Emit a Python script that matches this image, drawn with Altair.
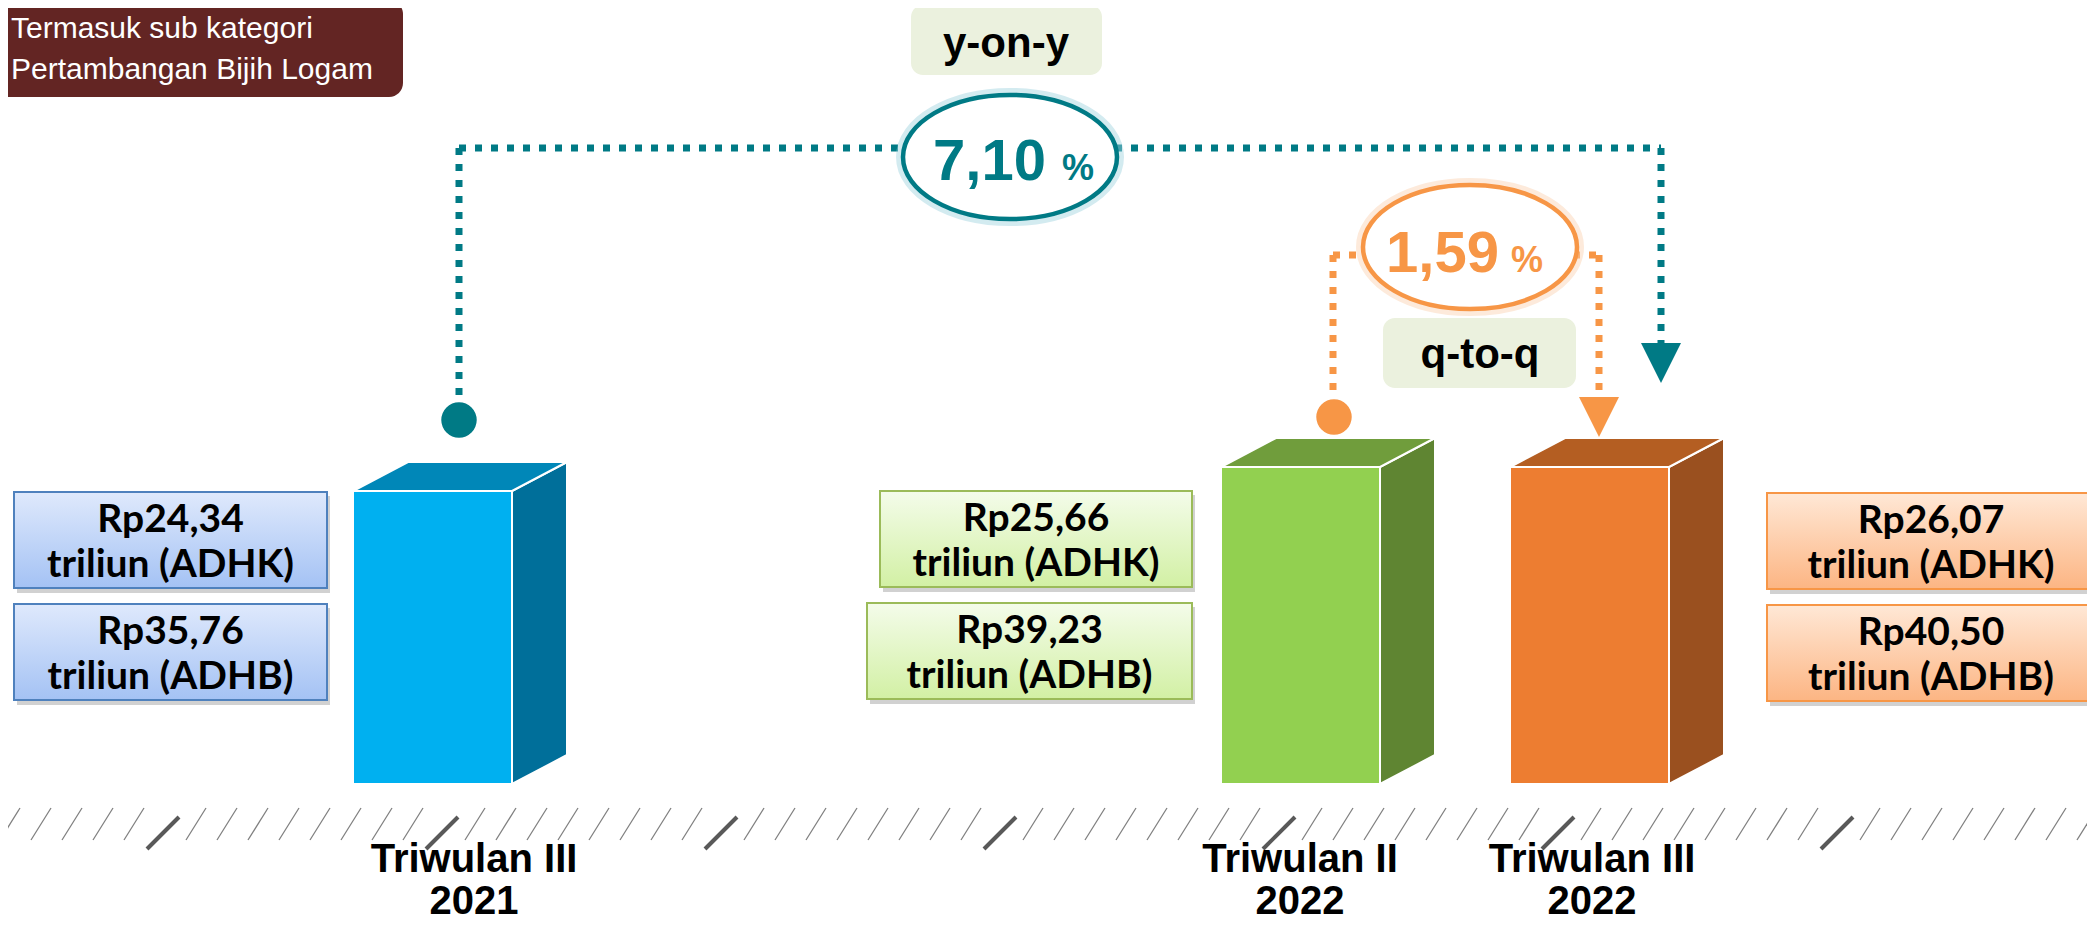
import altair as alt
import pandas as pd

# ---------------- data ----------------
period_names = ["Triwulan III", "Triwulan II", "Triwulan III"]
period_years = ["2021", "2022", "2022"]
adhk_values = [24.34, 25.66, 26.07]
adhb_values = [35.76, 39.23, 40.50]
yoy_growth = 7.10
qtq_growth = 1.59
note_lines = ["Termasuk sub kategori", "Pertambangan Bijih Logam"]
yoy_label = "y-on-y"
qtq_label = "q-to-q"

# ---------------- layout (page pixels) ----------------
W, H, M = 2095, 932, 8
bar_left = [353, 1221, 1510]
bar_w = 159
bar_top = [491, 467, 467]
bar_bottom = 784
dep_x, dep_y = 55, 29
front_col = ["#00B0F0", "#92D050", "#ED7D31"]
top_col = ["#0087B8", "#709D3C", "#B45E22"]
side_col = ["#006F9A", "#5F8532", "#9A501F"]

box_left = [[14, 14], [880, 867], [1767, 1767]]
box_right = [327, 1192, 2095]
box_top = [[492, 604], [491, 603], [493, 605]]
box_h = 96
grad_top = ["#DFE9FC", "#F4FCEA", "#FFE8D6"]
grad_bot = ["#A4C2F4", "#D2F0A4", "#FCB583"]
box_line = ["#4F81BD", "#9BBB59", "#F79646"]
label_x = [474, 1300, 1592]

TEAL = "#007A85"
ORANGE = "#F79646"
ARIAL = "Liberation Sans, Arial, sans-serif"
BOXF = "Lato, Open Sans, sans-serif"

XS = alt.Scale(domain=[M, W - M], nice=False, zero=False)
YS = alt.Scale(domain=[M, H - M], nice=False, zero=False, reverse=True)


def X(f="x"):
    return alt.X(f"{f}:Q", scale=XS, axis=None)


def Y(f="y"):
    return alt.Y(f"{f}:Q", scale=YS, axis=None)


def fmt(v):
    return f"{v:.2f}".replace(".", ",")


layers = []

# ---------------- ground hatch ----------------
big_x = [31 * (5 + 9 * k) - 8 for k in range(7)]
small_x = [x for x in range(0, W, 31) if all(abs(x - b) > 15 for b in big_x)]
hs = pd.DataFrame({"x": small_x, "y": 840, "x2": [x + 20 for x in small_x], "y2": 808})
hb = pd.DataFrame({"x": big_x, "y": 849, "x2": [x + 32 for x in big_x], "y2": 817})
layers.append(alt.Chart(hs).mark_rule(color="#7F7F7F", strokeWidth=1.3).encode(
    x=X(), y=Y(), x2="x2:Q", y2="y2:Q"))
layers.append(alt.Chart(hb).mark_rule(color="#595959", strokeWidth=4).encode(
    x=X(), y=Y(), x2="x2:Q", y2="y2:Q"))

# ---------------- 3D bars ----------------
side_rows, top_rows, front_rows = [], [], []
for i in range(3):
    l, r, t = bar_left[i], bar_left[i] + bar_w, bar_top[i]
    side_rows += [
        {"bar": i, "x": r, "y": t, "y2": bar_bottom, "c": side_col[i]},
        {"bar": i, "x": r + dep_x, "y": t - dep_y, "y2": bar_bottom - dep_y, "c": side_col[i]},
    ]
    top_rows += [
        {"bar": i, "y": t, "x": l, "x2": r, "c": top_col[i]},
        {"bar": i, "y": t - dep_y, "x": l + dep_x, "x2": r + dep_x, "c": top_col[i]},
    ]
    front_rows.append({"x": l, "x2": r, "y": t, "y2": bar_bottom, "c": front_col[i]})

layers.append(alt.Chart(pd.DataFrame(side_rows)).mark_area(
    orient="vertical", stroke="white", strokeWidth=2, opacity=1).encode(
    x=X(), y=Y(), y2="y2:Q", color=alt.Color("c:N", scale=None), detail="bar:N"))
layers.append(alt.Chart(pd.DataFrame(top_rows)).mark_area(
    orient="horizontal", stroke="white", strokeWidth=2, opacity=1).encode(
    y=Y(), x=X(), x2="x2:Q", color=alt.Color("c:N", scale=None), detail="bar:N"))
layers.append(alt.Chart(pd.DataFrame(front_rows)).mark_rect(
    stroke="white", strokeWidth=2).encode(
    x=X(), x2="x2:Q", y=Y(), y2="y2:Q", color=alt.Color("c:N", scale=None)))

# ---------------- value boxes ----------------
for i in range(3):
    rows, shadow, txt = [], [], []
    vals = [(adhk_values[i], "triliun (ADHK)"), (adhb_values[i], "triliun (ADHB)")]
    for j in range(2):
        l, r, t = box_left[i][j], box_right[i], box_top[i][j]
        rows.append({"x": l, "x2": r, "y": t, "y2": t + box_h})
        shadow.append({"x": l + 3, "x2": r + 3, "y": t + 4, "y2": t + box_h + 5})
        cx = (l + r) / 2
        txt.append({"x": cx, "y": t + 40, "t": "Rp" + fmt(vals[j][0])})
        txt.append({"x": cx, "y": t + 85, "t": vals[j][1]})
    grad = alt.LinearGradient(
        gradient="linear",
        stops=[alt.GradientStop(color=grad_top[i], offset=0),
               alt.GradientStop(color=grad_bot[i], offset=1)],
        x1=0, x2=0, y1=0, y2=1)
    layers.append(alt.Chart(pd.DataFrame(shadow)).mark_rect(
        fill="#000000", opacity=0.18).encode(x=X(), x2="x2:Q", y=Y(), y2="y2:Q"))
    layers.append(alt.Chart(pd.DataFrame(rows)).mark_rect(
        fill=grad, stroke=box_line[i], strokeWidth=2).encode(
        x=X(), x2="x2:Q", y=Y(), y2="y2:Q"))
    layers.append(alt.Chart(pd.DataFrame(txt)).mark_text(
        font=BOXF, fontSize=39, fontWeight="bold", color="#000000",
        align="center", baseline="alphabetic").encode(x=X(), y=Y(), text="t:N"))

# ---------------- dotted connectors ----------------
dots = pd.DataFrame([
    {"x": 459, "y": 148, "x2": 459, "y2": 402, "c": TEAL},
    {"x": 459, "y": 148, "x2": 1661, "y2": 148, "c": TEAL},
    {"x": 1661, "y": 148, "x2": 1661, "y2": 345, "c": TEAL},
    {"x": 1333, "y": 255, "x2": 1333, "y2": 399, "c": ORANGE},
    {"x": 1333, "y": 255, "x2": 1599, "y2": 255, "c": ORANGE},
    {"x": 1599, "y": 255, "x2": 1599, "y2": 399, "c": ORANGE},
])
layers.append(alt.Chart(dots).mark_rule(
    strokeWidth=7, strokeDash=[7, 9], strokeCap="butt").encode(
    x=X(), y=Y(), x2="x2:Q", y2="y2:Q", color=alt.Color("c:N", scale=None)))

circles = pd.DataFrame([{"x": 459, "y": 420, "c": TEAL}, {"x": 1334, "y": 417, "c": ORANGE}])
layers.append(alt.Chart(circles).mark_point(
    shape="circle", filled=True, size=1257, opacity=1).encode(
    x=X(), y=Y(), color=alt.Color("c:N", scale=None)))
tri = pd.DataFrame([{"x": 1661, "y": 363, "c": TEAL}, {"x": 1599, "y": 417, "c": ORANGE}])
layers.append(alt.Chart(tri).mark_point(
    shape="M-1,-1L1,-1L0,1Z", filled=True, size=1600, opacity=1).encode(
    x=X(), y=Y(), color=alt.Color("c:N", scale=None)))

# ---------------- ellipses ----------------
k, r = 0.5523, 0.58
ell = (f"M1,0C1,{k*r:.4f} {k},{r} 0,{r}C{-k},{r} -1,{k*r:.4f} -1,0"
       f"C-1,{-k*r:.4f} {-k},{-r} 0,{-r}C{k},{-r} 1,{-k*r:.4f} 1,0Z")
ells = [(1010, 157, TEAL, "#9FD3E0"), (1470, 247, ORANGE, "#FBD2B0")]
for (ex_, ey_, col, glow) in ells:
    d = pd.DataFrame([{"x": ex_, "y": ey_}])
    layers.append(alt.Chart(d).mark_point(
        shape=ell, filled=False, stroke=glow, strokeWidth=14, size=214 ** 2,
        opacity=0.45).encode(x=X(), y=Y()))
    layers.append(alt.Chart(d).mark_point(
        shape=ell, filled=True, fill="white", stroke=col, strokeWidth=4.5,
        size=214 ** 2, opacity=1).encode(x=X(), y=Y()))

pct = pd.DataFrame([
    {"x": 1046, "y": 180, "t": fmt(yoy_growth), "c": TEAL},
    {"x": 1499, "y": 272, "t": fmt(qtq_growth), "c": ORANGE},
])
layers.append(alt.Chart(pct).mark_text(
    font=ARIAL, fontSize=58, fontWeight="bold", align="right", baseline="alphabetic").encode(
    x=X(), y=Y(), text="t:N", color=alt.Color("c:N", scale=None)))
pcs = pd.DataFrame([
    {"x": 1062, "y": 180, "t": "%", "c": TEAL},
    {"x": 1511, "y": 272, "t": "%", "c": ORANGE},
])
layers.append(alt.Chart(pcs).mark_text(
    font=ARIAL, fontSize=36, fontWeight="bold", align="left", baseline="alphabetic").encode(
    x=X(), y=Y(), text="t:N", color=alt.Color("c:N", scale=None)))

# ---------------- y-on-y / q-to-q tags ----------------
tags = pd.DataFrame([
    {"x": 911, "x2": 1102, "y": 5, "y2": 75},
    {"x": 1383, "x2": 1576, "y": 318, "y2": 388},
])
layers.append(alt.Chart(tags).mark_rect(fill="#EBF1DE", cornerRadius=12).encode(
    x=X(), x2="x2:Q", y=Y(), y2="y2:Q"))
tag_txt = pd.DataFrame([
    {"x": 1006, "y": 57, "t": yoy_label},
    {"x": 1480, "y": 368, "t": qtq_label},
])
layers.append(alt.Chart(tag_txt).mark_text(
    font=ARIAL, fontSize=42, fontWeight="bold", color="#000000",
    align="center", baseline="alphabetic").encode(x=X(), y=Y(), text="t:N"))

# ---------------- note box ----------------
note = pd.DataFrame([{"x": 0, "x2": 403, "y": 0, "y2": 97}])
layers.append(alt.Chart(note).mark_rect(
    fill="#632523", cornerRadiusTopRight=14, cornerRadiusBottomRight=14).encode(
    x=X(), x2="x2:Q", y=Y(), y2="y2:Q"))
note_txt = pd.DataFrame([
    {"x": 11, "y": 38, "t": note_lines[0]},
    {"x": 11, "y": 79, "t": note_lines[1]},
])
layers.append(alt.Chart(note_txt).mark_text(
    font=ARIAL, fontSize=30, color="white", align="left", baseline="alphabetic").encode(
    x=X(), y=Y(), text="t:N"))

# ---------------- category labels ----------------
lab_rows = []
for i in range(3):
    lab_rows.append({"x": label_x[i], "y": 872, "t": period_names[i]})
    lab_rows.append({"x": label_x[i], "y": 914, "t": period_years[i]})
layers.append(alt.Chart(pd.DataFrame(lab_rows)).mark_text(
    font=ARIAL, fontSize=40, fontWeight="bold", color="#000000",
    align="center", baseline="alphabetic").encode(x=X(), y=Y(), text="t:N"))

chart = alt.layer(*layers).properties(
    width=W - 2 * M, height=H - 2 * M, padding=0, autosize="none", background="white"
).configure_view(stroke=None)

chart.save("out.html", embed_options={"renderer": "svg", "actions": False})
